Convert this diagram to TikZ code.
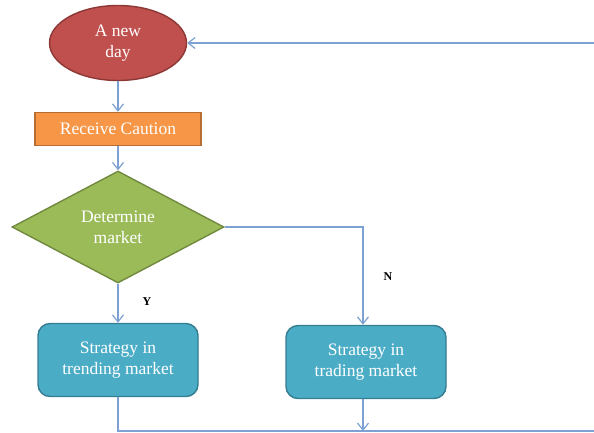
\documentclass[tikz,border=0pt]{standalone}
\usepackage{fontspec}
\setmainfont{Liberation Serif}
\usetikzlibrary{shapes.geometric,arrows.meta}
\definecolor{dayred}{HTML}{C0504D}
\definecolor{dayredline}{HTML}{8C3836}
\definecolor{cautionorange}{HTML}{F79646}
\definecolor{cautionline}{HTML}{B66D31}
\definecolor{marketgreen}{HTML}{9BBB59}
\definecolor{marketline}{HTML}{71893F}
\definecolor{strategyblue}{HTML}{4BACC6}
\definecolor{strategyline}{HTML}{357D91}
\definecolor{flowline}{HTML}{7EA1D3}

\begin{document}
\begin{tikzpicture}[x=1pt,y=-1pt,>={Straight Barb[length=7pt,width=11pt]}]
              \tikzstyle{every node}=[text=white,align=center,font=\fontsize{17.5}{21}\selectfont,line width=1.4pt];
              \tikzstyle{dayellipse}=[draw=dayredline,fill=dayred,ellipse,minimum width=137pt,minimum height=75pt,inner sep=0pt];
              \tikzstyle{cautionbox}=[draw=cautionline,fill=cautionorange,rectangle,minimum width=166pt,minimum height=33pt,inner sep=0pt];
              \tikzstyle{marketdiamond}=[draw=marketline,fill=marketgreen,diamond,minimum width=212pt,minimum height=112pt,inner sep=0pt];
              \tikzstyle{strategybox}=[draw=strategyline,fill=strategyblue,rectangle,rounded corners=12pt,minimum width=160pt,minimum height=73pt,inner sep=0pt];
              \tikzstyle{yesno}=[text=black,font=\fontsize{12}{14}\selectfont\bfseries];
              \tikzstyle{flow}=[draw=flowline,line width=1.2pt];

                \useasboundingbox (0,0) rectangle (594,432);

                \path (118,43)  node[dayellipse] (day) {A new\\day};
                \path (118,129) node[cautionbox] (caution) {Receive Caution};
                \path (118,227) node[marketdiamond] (market) {Determine\\market};
                \path (118,360) node[strategybox] (trending) {Strategy in\\trending market};
                \path (366,362) node[strategybox] (trading) {Strategy in\\trading market};

                \path (147,302) node[yesno] (yes) {Y};
                \path (388,277) node[yesno] (no) {N};

                \coordinate (topright) at (594,43);
                \coordinate (botright) at (594,431);
                \coordinate (nturn) at (363,227);
                \coordinate (yturn) at (118,431);
                \coordinate (join) at (363,431);

                \path[->,flow] (day) -- (caution);
                \path[->,flow] (caution) -- (market);
                \path[->,flow] (market) -- (trending);
                \path[->,flow] (market.east) -- (nturn) -- (nturn |- trading.north);
                \path[-,flow] (trending) -- (yturn) -- (botright);
                \path[->,flow] (nturn |- trading.south) -- (join);
                \path[->,flow] (topright) -- (day);
            \end{tikzpicture}
\end{document}
